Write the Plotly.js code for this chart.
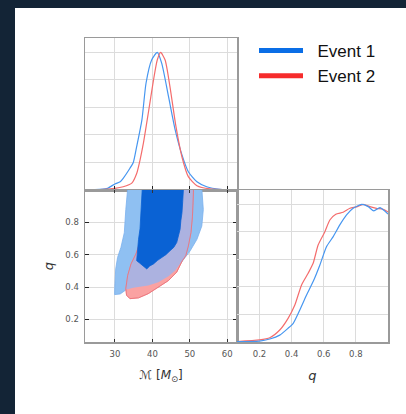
<!DOCTYPE html>
<html><head><meta charset="utf-8">
<script src="https://cdn.plot.ly/plotly-3.0.1.min.js"></script>
<style>html,body{margin:0;padding:0;background:#132436;}#chart{width:406px;height:414px;}</style>
</head><body><div id="chart"></div>
<script>
// ---- Data ----
// Chirp-mass marginal (top panel), normalised density
const mcBlueX = [22, 26, 28, 30, 31.4, 32.2, 34, 34.9, 35.8, 37.2, 38.3, 39.8, 41.3, 42.5, 44.3, 46.1, 47.9, 49.6, 51.9, 54.5, 58.1, 62.6];
const mcBlueY = [0, 0.004, 0.012, 0.044, 0.06, 0.085, 0.158, 0.2, 0.315, 0.51, 0.776, 0.945, 1.0, 0.92, 0.68, 0.436, 0.255, 0.133, 0.06, 0.024, 0.005, 0];
const mcRedX = [22, 26, 30, 32.2, 34.5, 35.8, 36.7, 37.6, 38.9, 40.3, 41.3, 42.2, 43.4, 44.7, 46.3, 47.9, 49.6, 51.9, 55.4, 62.6];
const mcRedY = [0, 0.003, 0.012, 0.024, 0.05, 0.12, 0.218, 0.34, 0.558, 0.8, 0.945, 1.0, 0.945, 0.75, 0.46, 0.24, 0.097, 0.031, 0.008, 0];

// Mass-ratio marginal (right panel), normalised density
const qBlueX = [0.06, 0.2, 0.264, 0.326, 0.378, 0.41, 0.451, 0.493, 0.534, 0.576, 0.617, 0.659, 0.7, 0.742, 0.783, 0.836, 0.877, 0.912, 0.95, 1.0];
const qBlueY = [0.003, 0.007, 0.022, 0.05, 0.1, 0.136, 0.233, 0.342, 0.439, 0.56, 0.693, 0.766, 0.851, 0.924, 0.972, 1.0, 0.984, 0.953, 0.977, 0.93];
const qRedX = [0.06, 0.2, 0.264, 0.326, 0.378, 0.42, 0.462, 0.503, 0.534, 0.565, 0.607, 0.638, 0.675, 0.721, 0.763, 0.804, 0.845, 0.887, 0.928, 0.97, 1.0];
const qRedY = [0.003, 0.015, 0.031, 0.087, 0.172, 0.269, 0.415, 0.5, 0.572, 0.705, 0.802, 0.887, 0.929, 0.943, 0.972, 0.982, 1.0, 0.984, 0.972, 0.965, 0.945];

// 2D credible regions (Mc, q)
// Event 1 outer (90%) contour: left side, bottom, right side
const blueOuterMc = [33.4, 33.0, 32.9, 32.5, 31.6, 30.7, 30.2, 30.0, 29.9,
                     31.4, 33.1, 34.9, 36.3, 38.9, 41.6, 44.3, 46.1, 47.4, 48.7,
                     50.1, 51.9, 53.2, 53.6, 53.4, 53.2];
const blueOuterQ  = [1.01, 0.93, 0.879, 0.736, 0.645, 0.583, 0.512, 0.42, 0.353,
                     0.357, 0.385, 0.395, 0.40, 0.41, 0.43, 0.467, 0.502, 0.543, 0.583,
                     0.624, 0.695, 0.777, 0.879, 0.94, 1.01];
// Event 1 inner (50%) contour
const blueInnerMc = [37.3, 37.1, 37.0, 36.7, 36.3, 36.0, 35.8, 36.5, 37.2, 38.0, 38.5, 39.3, 40.3, 41.4, 42.5, 43.6, 44.7, 45.7, 46.5, 47.0, 47.4, 47.6, 47.9, 48.1, 48.3];
const blueInnerQ  = [1.01, 0.92, 0.838, 0.76, 0.695, 0.62, 0.563, 0.55, 0.536, 0.52, 0.512, 0.53, 0.543, 0.565, 0.583, 0.6, 0.624, 0.645, 0.675, 0.715, 0.757, 0.81, 0.859, 0.93, 1.01];
// Event 2 outer (90%) contour: left side, bottom, right side
const redOuterMc = [38.0, 37.8, 37.3, 36.3, 35.6, 34.3, 33.4, 32.9,
                    33.1, 34.0, 36.3, 38.9, 41.6, 44.3, 46.5, 48.0, 48.9,
                    49.6, 50.3, 50.7, 51.0];
const redOuterQ  = [1.01, 0.85, 0.72, 0.645, 0.604, 0.543, 0.471, 0.39,
                    0.349, 0.328, 0.333, 0.359, 0.40, 0.44, 0.492, 0.563, 0.593,
                    0.654, 0.736, 0.838, 1.01];

const mcTicks = [30, 40, 50, 60];
const qTicks = [0.2, 0.4, 0.6, 0.8];
const seriesNames = ['Event 1', 'Event 2'];

// overlap of the two outer regions, assembled from the contour pieces above
const ovMc = redOuterMc.slice(0, 8).concat(blueOuterMc.slice(10, 19), redOuterMc.slice(16));
const ovQ  = redOuterQ.slice(0, 8).concat(blueOuterQ.slice(10, 19), redOuterQ.slice(16));

const cBlueLine = 'rgb(70,150,240)', cRedLine = 'rgb(244,108,108)';
const pad = '\u00a0\u00a0';
const traces = [
  {type:'scatter', mode:'lines', x:mcBlueX, y:mcBlueY, xaxis:'x', yaxis:'y', line:{color:cBlueLine, width:1.2, shape:'spline', smoothing:0.6}, showlegend:false, hoverinfo:'skip'},
  {type:'scatter', mode:'lines', x:mcRedX, y:mcRedY, xaxis:'x', yaxis:'y', line:{color:cRedLine, width:1.2, shape:'spline', smoothing:0.6}, showlegend:false, hoverinfo:'skip'},
  {type:'scatter', mode:'lines', x:qRedX, y:qRedY, xaxis:'x3', yaxis:'y3', line:{color:cRedLine, width:1.2, shape:'spline', smoothing:0.6}, showlegend:false, hoverinfo:'skip'},
  {type:'scatter', mode:'lines', x:qBlueX, y:qBlueY, xaxis:'x3', yaxis:'y3', line:{color:cBlueLine, width:1.2, shape:'spline', smoothing:0.6}, showlegend:false, hoverinfo:'skip'},
  {type:'scatter', mode:'lines', x:blueOuterMc, y:blueOuterQ, xaxis:'x2', yaxis:'y2', fill:'toself', fillcolor:'rgb(143,192,242)', line:{color:'rgb(122,176,238)', width:0.8}, showlegend:false, hoverinfo:'skip'},
  {type:'scatter', mode:'lines', x:redOuterMc, y:redOuterQ, xaxis:'x2', yaxis:'y2', fill:'toself', fillcolor:'rgb(250,162,162)', line:{color:'rgb(245,140,140)', width:0.8}, showlegend:false, hoverinfo:'skip'},
  {type:'scatter', mode:'lines', x:ovMc, y:ovQ, xaxis:'x2', yaxis:'y2', fill:'toself', fillcolor:'rgb(172,178,224)', line:{width:0}, showlegend:false, hoverinfo:'skip'},
  {type:'scatter', mode:'lines', x:redOuterMc, y:redOuterQ, xaxis:'x2', yaxis:'y2', line:{color:'rgba(232,110,120,0.85)', width:0.9}, showlegend:false, hoverinfo:'skip'},
  {type:'scatter', mode:'lines', x:blueInnerMc, y:blueInnerQ, xaxis:'x2', yaxis:'y2', fill:'toself', fillcolor:'rgb(10,98,212)', line:{color:'rgb(10,98,212)', width:0.8}, showlegend:false, hoverinfo:'skip'},
  {type:'scatter', mode:'lines', x:[null], y:[null], xaxis:'x', yaxis:'y', name:pad + seriesNames[0], line:{color:'rgb(10,110,230)', width:5}},
  {type:'scatter', mode:'lines', x:[null], y:[null], xaxis:'x', yaxis:'y', name:pad + seriesNames[1], line:{color:'rgb(246,44,44)', width:5}}
];

const frame = {showline:true, linecolor:'#9a9a9a', linewidth:1.5, mirror:true, showgrid:true, gridcolor:'#dcdcdc', gridwidth:1, zeroline:false, fixedrange:true};
const tickFont = {family:'DejaVu Sans', size:8.5, color:'#555'};
const titleFont = {family:'DejaVu Sans', size:12, color:'#333'};
const W = 406, H = 414;
const layout = {
  width:W, height:H, margin:{l:0, r:0, t:0, b:0},
  paper_bgcolor:'#132436', plot_bgcolor:'#ffffff',
  font:{family:'DejaVu Sans', color:'#444'},
  showlegend:true,
  shapes:[{type:'rect', xref:'paper', yref:'paper', x0:15/W, x1:1.01, y0:-0.01, y1:1-8/H, fillcolor:'#ffffff', line:{width:0}, layer:'below'}],
  xaxis: Object.assign({}, frame, {domain:[85/W, 237/W], anchor:'y', range:[22, 62.6], tickvals:mcTicks, showticklabels:false, ticks:'inside', ticklen:4, tickcolor:'#222', tickwidth:1}),
  yaxis: Object.assign({}, frame, {domain:[1-190/H, 1-38/H], anchor:'x', range:[0, 1.105], tick0:0, dtick:0.2, showticklabels:false, ticks:''}),
  xaxis2: Object.assign({}, frame, {domain:[85/W, 237/W], anchor:'y2', range:[22, 62.6], tickvals:mcTicks, ticks:'inside', ticklen:3, tickcolor:'#333', tickwidth:1, mirror:'ticks', tickfont:tickFont, ticklabelstandoff:3,
    title:{text:'<i>ℳ</i> [<i>M</i><sub>⊙</sub>]', font:titleFont, standoff:13}}),
  yaxis2: Object.assign({}, frame, {domain:[1-342/H, 1-190/H], anchor:'x2', range:[0.06, 1.0], tickvals:qTicks, tickformat:'.1f', ticks:'inside', ticklen:4, tickcolor:'#222', tickwidth:1, mirror:'ticks', tickfont:tickFont, ticklabelstandoff:3,
    title:{text:'<i>q</i>', font:{family:'DejaVu Sans', size:13, color:'#333'}, standoff:8}}),
  xaxis3: Object.assign({}, frame, {domain:[237/W, 388/W], anchor:'y3', range:[0.06, 1.0], tickvals:qTicks, tickformat:'.1f', ticks:'', tickfont:tickFont, ticklabelstandoff:3,
    title:{text:'<i>q</i>', font:{family:'DejaVu Sans', size:13, color:'#333'}, standoff:13}}),
  yaxis3: Object.assign({}, frame, {domain:[1-342/H, 1-190/H], anchor:'x3', range:[0, 1.105], tick0:0, dtick:0.2, showticklabels:false, ticks:''}),
  legend:{x:254/W, xanchor:'left', y:1-33/H, yanchor:'top', bgcolor:'rgba(0,0,0,0)', borderwidth:0, itemwidth:44, tracegroupgap:0,
    font:{family:'Liberation Sans, Arial, sans-serif', size:17, color:'#111'}}
};
Plotly.newPlot('chart', traces, layout, {staticPlot:true, displayModeBar:false});
</script></body></html>
